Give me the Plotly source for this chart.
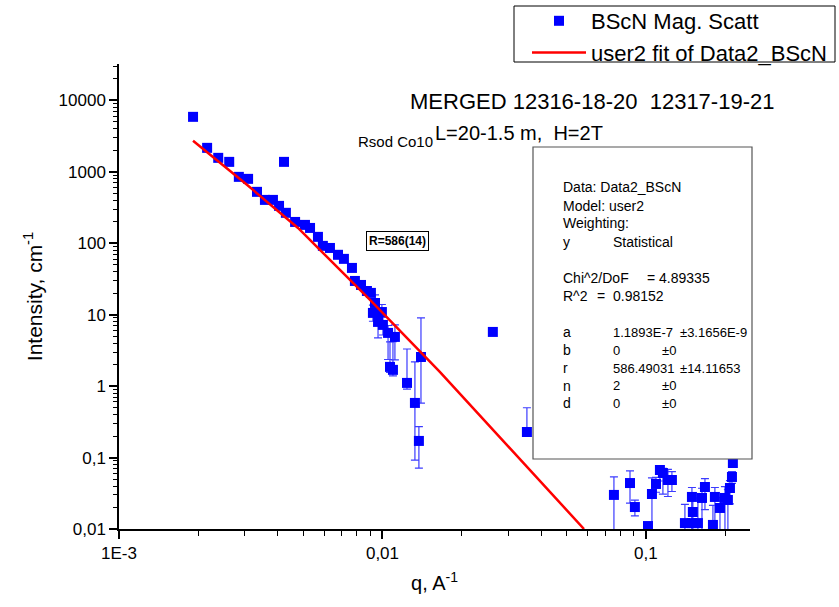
import plotly.graph_objects as go

# ---- data ----
q_data = [0.00191, 0.00216, 0.00238, 0.00262, 0.00285, 0.00309, 0.00334, 0.00358,
          0.00384, 0.00405, 0.00423, 0.0043, 0.00466, 0.00508, 0.00531, 0.00569,
          0.00594, 0.00632, 0.00678, 0.00714, 0.00766, 0.00786, 0.00829, 0.00873,
          0.00904, 0.00937, 0.0092, 0.00995, 0.00962, 0.01004, 0.0105, 0.01115,
          0.01068, 0.01096, 0.01239, 0.01328, 0.0140, 0.01375, 0.02624, 0.03534,
          0.0756, 0.0870, 0.0908, 0.1018, 0.1054, 0.1092, 0.1130, 0.1160,
          0.1212, 0.1255, 0.1406, 0.1495, 0.1495, 0.1507, 0.1575, 0.1632,
          0.1675, 0.1796, 0.1827, 0.1910, 0.1995, 0.2047, 0.2084, 0.2121, 0.2138]
i_data = [5890, 2168, 1571, 1380, 851, 798, 525, 405,
          405, 334, 1380, 267, 199, 181, 164, 123,
          92, 86, 69, 60.5, 45.2, 29.7, 26.1, 21.5,
          20.2, 14.6, 10.6, 10.9, 7.93, 7.2, 5.56, 4.89,
          1.86, 1.69, 1.11, 0.582, 2.56, 0.171, 5.74, 0.228,
          0.030, 0.044, 0.0203, 0.011, 0.0309, 0.0427, 0.067, 0.0608,
          0.0485, 0.0485, 0.0121, 0.0121, 0.0281, 0.0173, 0.0121, 0.0272,
          0.0387, 0.0114, 0.0281, 0.0197, 0.0272, 0.0255, 0.0375, 0.0535, 0.084]
err_plus = [0, 0, 0, 0, 0, 0, 0, 0,
            0, 0, 0, 0, 0, 0, 0, 0,
            0, 0, 0, 0, 0, 0, 0, 0,
            0, 4.4, 3.0, 3.0, 2.5, 2.0, 1.5, 2.3,
            2.3, 2.5, 2.2, 1.6, 6.45, 0.1, 0, 0.27,
            0.0235, 0.021, 0.005, 0, 0.021, 0.01, 0.008, 0.01,
            0.02, 0.015, 0.01, 0.02, 0.01, 0.008, 0.015, 0.01,
            0.012, 0.01, 0.01, 0.008, 0.012, 0.01, 0.01, 0.01, 0.01]
err_minus = [0, 0, 0, 0, 0, 0, 0, 0,
             0, 0, 0, 0, 0, 0, 0, 0,
             0, 0, 0, 0, 0, 0, 0, 0,
             0, 3.6, 2.5, 3.0, 3.2, 2.0, 3.2, 2.56,
             0.3, 0.3, 0.2, 0.49, 1.98, 0.1, 0, 0.02,
             0.0299, 0.021, 0.005, 0, 0.0305, 0.01, 0.02, 0.03,
             0.02, 0.015, 0.012, 0.012, 0.028, 0.017, 0.012, 0.027,
             0.02, 0.011, 0.028, 0.019, 0.027, 0.025, 0.015, 0.01, 0.01]

q_fit = [0.00191, 0.00306, 0.00478, 0.00897, 0.01651, 0.0215, 0.0582]
i_fit = [2718, 658, 164, 16.1, 1.58, 0.546, 0.01]

x_tickvals = [0.001, 0.01, 0.1]
x_ticktext = ["1E-3", "0,01", "0,1"]
y_tickvals = [0.01, 0.1, 1, 10, 100, 1000, 10000]
y_ticktext = ["0,01", "0,1", "1", "10", "100", "1000", "10000"]

stat_col1 = ["Data: Data2_BScN", "Model: user2", "Weighting:", "y", "Chi^2/DoF", "R^2",
             "a", "b", "r", "n", "d"]

FONT = "Liberation Sans, Arial, sans-serif"
W, H = 839, 607
L, R, T, B = 119, 750, 64, 529


def px(xpix):
    return (xpix - L) / (R - L)


def py(ypix):
    return (B - ypix) / (B - T)


fig = go.Figure()
fig.add_trace(go.Scatter(
    x=q_data, y=i_data, mode="markers", name="BScN Mag. Scatt",
    marker=dict(symbol="square", size=10, color="#0000ff", line=dict(width=0)),
    error_y=dict(type="data", symmetric=False, array=err_plus, arrayminus=err_minus,
                 color="#3c3cff", thickness=1.2, width=4),
))
fig.add_trace(go.Scatter(
    x=q_fit, y=i_fit, mode="lines", name="user2 fit of Data2_BScN",
    line=dict(color="#ff0000", width=2.5),
))

axis_common = dict(showline=True, linecolor="black", linewidth=1.5, mirror=False,
                   showgrid=False, zeroline=False, ticks="outside", ticklen=8,
                   tickwidth=1.5, tickcolor="black",
                   tickfont=dict(family=FONT, size=17, color="black"))

fig.update_xaxes(type="log", range=[-3, -0.605], tickmode="array",
                 tickvals=x_tickvals, ticktext=x_ticktext,
                 minor=dict(ticks="outside", ticklen=5, tickwidth=1.2, tickcolor="black",
                            dtick="D1", showgrid=False),
                 title=dict(text="q, A<sup>-1</sup>", font=dict(family=FONT, size=20, color="black"),
                            standoff=14),
                 **axis_common)
fig.update_yaxes(type="log", range=[-2, 4.51], tickmode="array",
                 tickvals=y_tickvals, ticktext=y_ticktext,
                 minor=dict(ticks="outside", ticklen=4, tickwidth=1.2, tickcolor="black",
                            dtick="D1", showgrid=False),
                 title=dict(text="Intensity, cm<sup>-1</sup>", font=dict(family=FONT, size=21, color="black"),
                            standoff=10),
                 **axis_common)

shapes = [
    # fit-parameter box (opaque, covers data behind it)
    dict(type="rect", xref="paper", yref="paper",
         x0=px(533), x1=px(752), y0=py(459), y1=py(147),
         line=dict(color="#555555", width=1.2), fillcolor="white", layer="above"),
    # legend frame
    dict(type="rect", xref="paper", yref="paper",
         x0=px(514), x1=px(835), y0=py(62), y1=py(6),
         line=dict(color="black", width=1), fillcolor="rgba(0,0,0,0)", layer="above"),
]

ann = []


def text(s, xpix, ypix, size=14, anchor="left", bold=False, **kw):
    ann.append(dict(text=("<b>%s</b>" % s) if bold else s, x=px(xpix), y=py(ypix),
                    xref="paper", yref="paper", xanchor=anchor, yanchor="middle",
                    showarrow=False, font=dict(family=FONT, size=size, color="black"), **kw))


text("MERGED 12316-18-20&nbsp;&nbsp;12317-19-21", 592, 102, size=22, anchor="center")
text("L=20-1.5 m,&nbsp;&nbsp;H=2T", 433, 133, size=20)
text("Rsod Co10", 356, 141, size=15)
text("R=586(14)", 397, 241, size=12, anchor="center", bold=True,
     bordercolor="black", borderwidth=1, borderpad=2, bgcolor="white")

rows_y = [187, 206, 223, 242, 278, 296, 332, 350, 368, 386, 403]
for s, yy in zip(stat_col1, rows_y):
    text(s, 561, yy)
text("Statistical", 611, 242)
text("= 4.89335", 645, 278)
text("=&nbsp;&nbsp;0.98152", 595, 296)
text("1.1893E-7", 611, 332, size=13)
text("±3.1656E-9", 678, 332, size=13)
text("0", 611, 350, size=13)
text("±0", 660, 350, size=13)
text("586.49031", 611, 368, size=13)
text("±14.11653", 678, 368, size=13)
text("2", 611, 386, size=13)
text("±0", 660, 386, size=13)
text("0", 611, 403, size=13)
text("±0", 660, 403, size=13)

fig.update_layout(
    width=W, height=H,
    margin=dict(l=L, r=W - R, t=T, b=H - B, autoexpand=False),
    paper_bgcolor="white", plot_bgcolor="white",
    font=dict(family=FONT, color="black"),
    showlegend=True,
    legend=dict(x=px(527), y=py(0), xanchor="left", yanchor="top",
                borderwidth=0, bgcolor="rgba(0,0,0,0)",
                font=dict(family=FONT, size=22, color="black"),
                itemwidth=54, tracegroupgap=0),
    shapes=shapes, annotations=ann,
)

fig.write_html("out.html")
